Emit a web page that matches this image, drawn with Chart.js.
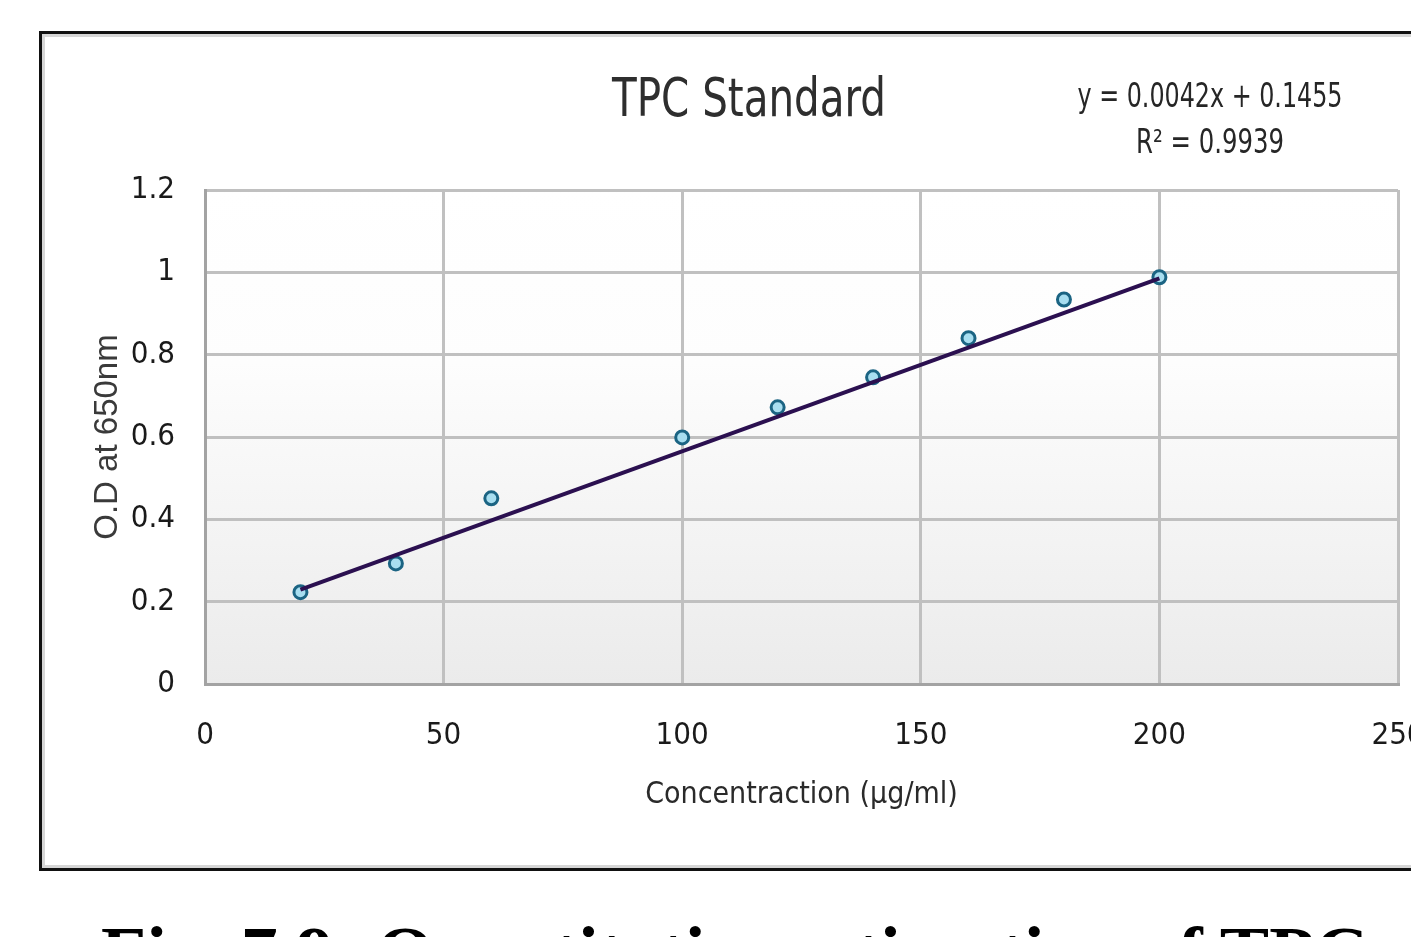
<!DOCTYPE html>
<html>
<head>
<meta charset="utf-8">
<title>TPC Standard</title>
<script src="https://cdn.jsdelivr.net/npm/chart.js@4.4.1/dist/chart.umd.min.js"></script>
<style>
  html, body { margin: 0; padding: 0; background: #fff; overflow: hidden; width: 1411px; height: 937px; }
  #frame {
    position: absolute; left: 39px; top: 31px; width: 1500px; height: 834px;
    border: 3px solid #111; box-shadow: inset 0 0 0 3px #d6d6d6;
  }
  #chart { position: absolute; left: 0; top: 0; }
  #caption {
    position: absolute; left: 101px; top: 916px; white-space: nowrap;
    font: bold 74px/74px "Liberation Serif", "Times New Roman", serif; color: #000;
  }
</style>
</head>
<body>
<div id="frame"></div>
<canvas id="chart" width="1500" height="937"></canvas>
<div id="caption">Fig. 7.9: Quantitative estimation of TPC</div>
<script>
// data
const concentration = [20, 40, 60, 100, 120, 140, 160, 180, 200];
const absorbance = [0.223, 0.293, 0.451, 0.599, 0.672, 0.745, 0.840, 0.934, 0.988];

// linear trendline ends (y = 0.0042x + 0.1455)
const trendX = [20, 200];
const trendY = [0.2295, 0.9855];

const xTickLabels = ["0", "50", "100", "150", "200", "250"];
const yTickLabels = ["0", "0.2", "0.4", "0.6", "0.8", "1", "1.2"];

const chartTitle = "TPC Standard";
const equationLines = ["y = 0.0042x + 0.1455", "R\u00B2 = 0.9939"];

const narrow = "'Liberation Sans Narrow', 'DejaVu Sans Condensed', 'Liberation Sans', sans-serif";

window.addEventListener("load", init);

//draw text squeezed to a given width (the original uses a narrow face)
function narrowText(c, text, x, y, width){
  let w = c.measureText(text).width;
  let k = Math.min(1, width / w);
  c.save();
  c.translate(x, y);
  c.scale(k, 1);
  c.fillText(text, 0, 0);
  c.restore();
}

function init(){
  let ctx = document.querySelector("#chart").getContext("2d");

  //plot area gradient
  let plotBackground = {
    id: "plotBackground",
    beforeDraw(chart){
      let {ctx, chartArea: a} = chart;
      let g = ctx.createLinearGradient(0, a.top, 0, a.bottom);
      g.addColorStop(0, "#ffffff");
      g.addColorStop(0.35, "#fdfdfd");
      g.addColorStop(1, "#ebebeb");
      ctx.save();
      ctx.fillStyle = g;
      ctx.fillRect(a.left, a.top, a.right - a.left, a.bottom - a.top);
      ctx.restore();
    }
  };

  //title and trendline equation
  let chartText = {
    id: "chartText",
    afterDraw(chart){
      let c = chart.ctx;
      c.save();
      c.textAlign = "center";
      c.textBaseline = "middle";
      c.fillStyle = "#2e2e2e";
      c.font = "53px " + narrow;
      narrowText(c, chartTitle, 749, 102, 274);
      c.fillStyle = "#262626";
      c.font = "33px " + narrow;
      narrowText(c, equationLines[0], 1210, 98, 265);
      narrowText(c, equationLines[1], 1210, 144, 148);
      c.restore();
    }
  };

  new Chart(ctx, {
    type: "scatter",
    data: {
      datasets: [
        {
          label: "Trend",
          type: "line",
          data: trendX.map((x, i) => ({x: x, y: trendY[i]})),
          borderColor: "#2b1050",
          borderWidth: 4,
          pointRadius: 0,
          fill: false,
          order: 0
        },
        {
          label: "TPC",
          data: concentration.map((x, i) => ({x: x, y: absorbance[i]})),
          pointRadius: 6.5,
          pointBorderWidth: 3,
          borderColor: "#1b6483",
          backgroundColor: "#a8def0",
          order: 1
        }
      ]
    },
    options: {
      responsive: false,
      animation: false,
      devicePixelRatio: 1,
      layout: { padding: { left: 88, right: 102, top: 190, bottom: 0 } },
      plugins: {
        legend: { display: false },
        tooltip: { enabled: false }
      },
      scales: {
        x: {
          type: "linear",
          min: 0,
          max: 250,
          ticks: {
            stepSize: 50,
            padding: 33,
            color: "#1a1a1a",
            font: { family: narrow, size: 31 },
            callback: (v, i) => xTickLabels[i]
          },
          grid: { color: "#c0c0c0", lineWidth: 3, drawTicks: false },
          border: { color: "#a3a3a3", width: 3 },
          title: {
            display: true,
            text: "Concentraction (\u00B5g/ml)",
            color: "#2a2a2a",
            font: { family: narrow, size: 30 },
            padding: { top: 0, bottom: 124 }
          },
          afterFit: scale => { scale.height = 253; }
        },
        y: {
          min: 0,
          max: 1.2,
          ticks: {
            stepSize: 0.2,
            padding: 30,
            color: "#1a1a1a",
            font: { family: narrow, size: 31 },
            callback: (v, i) => yTickLabels[i]
          },
          grid: { color: "#c0c0c0", lineWidth: 3, drawTicks: false },
          border: { color: "#a3a3a3", width: 3 },
          title: {
            display: true,
            text: "O.D at 650nm",
            color: "#3a3a3a",
            font: { family: "'Liberation Sans', Arial, sans-serif", size: 33 },
            padding: { top: 0, bottom: 0 }
          },
          afterFit: scale => { scale.width = 117; }
        }
      }
    },
    plugins: [plotBackground, chartText]
  });
}
</script>
</body>
</html>
